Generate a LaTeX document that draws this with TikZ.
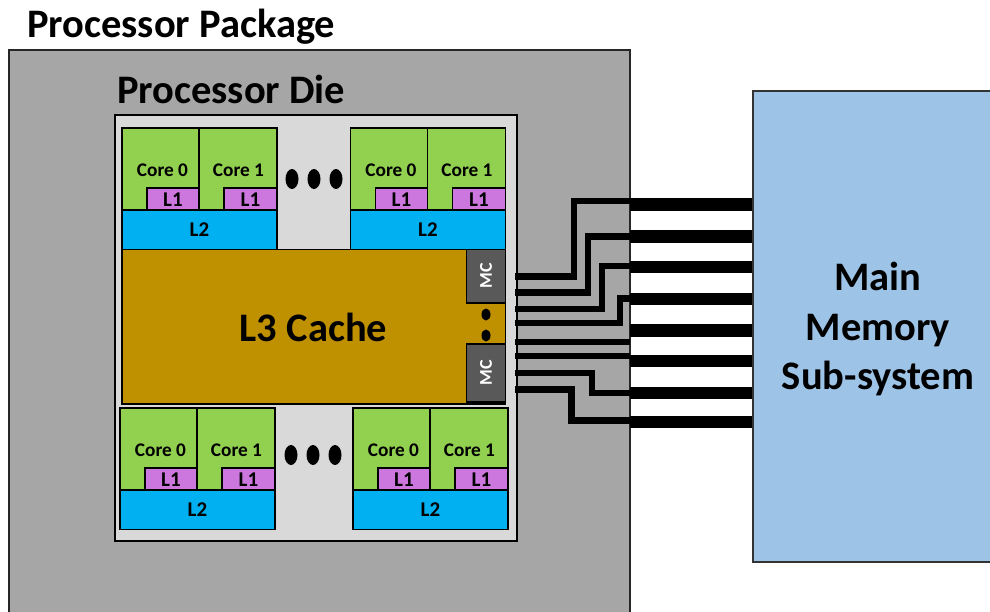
\documentclass[tikz,border=0pt]{standalone}
\usepackage{fontspec}
\setmainfont{Carlito}
\usetikzlibrary{calc}

\definecolor{pkggray}{HTML}{A6A6A6}
\definecolor{diegray}{HTML}{D9D9D9}
\definecolor{coregreen}{HTML}{92D050}
\definecolor{lonepink}{HTML}{CC77DD}
\definecolor{ltwoblue}{HTML}{00B0F0}
\definecolor{lthreegold}{HTML}{BF9000}
\definecolor{mcgray}{HTML}{595959}
\definecolor{memblue}{HTML}{9DC3E6}

% one pair of cores with their L1 and shared L2
\newcommand{\coregroup}[3]{%
  \begin{scope}[shift={(#1,#2)}]
    \draw[cell,fill=coregreen] (0,0) rectangle (77,82);
    \draw[cell,fill=coregreen] (77,0) rectangle (155,82);
    \draw[cell,fill=lonepink] (25,60) rectangle (77,82);
    \draw[cell,fill=lonepink] (102,60) rectangle (155,82);
    \draw[cell,fill=ltwoblue] (0,82) rectangle (155,121.5);
    \node[small] (#3c0) at (40.5,42) {Core 0};
    \node[small] (#3c1) at (116.5,42) {Core 1};
    \node[cache] (#3la) at (51,71.5) {L1};
    \node[cache] (#3lb) at (128.5,71.5) {L1};
    \node[cache] (#3l2) at (77.5,102) {L2};
  \end{scope}}

\begin{document}
\begin{tikzpicture}[x=1pt,y=-1pt,
    cell/.style={draw=black,line width=1.3pt},
    small/.style={font=\bfseries\fontsize{19.3}{21}\selectfont,inner sep=0pt},
    cache/.style={font=\bfseries\fontsize{21}{23}\selectfont,inner sep=0pt},
    big/.style={font=\bfseries\fontsize{40.5}{49.5}\selectfont,inner sep=0pt},
    wire/.style={line width=6.5pt},
    bar/.style={line width=12.5pt},
    dot/.style={fill=black}]
  \useasboundingbox (0,0) rectangle (990,611);
  \clip (0,0) rectangle (990,611);

  % package and die
  \fill[pkggray] (9,50) rectangle (630,620);
  \draw[line width=1.8pt,black!85] (9,620) -- (9,50) -- (630,50) -- (630,620);
  \node[big,anchor=base west] (pkgtitle) at (27,37.5) {Processor Package};
  \draw[line width=1.6pt,fill=diegray] (115,115) rectangle (517,541);
  \node[big,anchor=base west] (dietitle) at (117,103) {Processor Die};

  \coregroup{122}{128}{tl}
  \coregroup{350.5}{128}{tr}
  \coregroup{120}{408}{bl}
  \coregroup{353}{408}{br}

  \fill[dot] (292,179) ellipse [x radius=6.5pt,y radius=10pt];
  \fill[dot] (314,179) ellipse [x radius=6.5pt,y radius=10pt];
  \fill[dot] (336,179) ellipse [x radius=6.5pt,y radius=10pt];
  \fill[dot] (291,455) ellipse [x radius=6.5pt,y radius=10pt];
  \fill[dot] (313,455) ellipse [x radius=6.5pt,y radius=10pt];
  \fill[dot] (335,455) ellipse [x radius=6.5pt,y radius=10pt];

  % shared cache and memory controllers
  \draw[cell,fill=lthreegold] (122,249.5) rectangle (505.5,404);
  \node[big] (lthree) at (313.5,327) {L3 Cache};
  \draw[cell,fill=mcgray] (466.5,249.5) rectangle (505.5,303);
  \draw[cell,fill=mcgray] (466.5,344) rectangle (505.5,402);
  \node[small,white,rotate=90,font=\bfseries\fontsize{18}{20}\selectfont] (mca) at (486,276) {MC};
  \node[small,white,rotate=90,font=\bfseries\fontsize{18}{20}\selectfont] (mcb) at (486,373) {MC};
  \fill[dot] (486,314.5) ellipse [x radius=4.5pt,y radius=6pt];
  \fill[dot] (486,335.5) ellipse [x radius=4.5pt,y radius=6pt];

  % wires to the memory bus
  \foreach \ya/\xt/\yb in {276.3/574/201,292.7/588/236.5,309/602/266,323/620/298.5,
                           342/600/342,356/600/356,373/592/393,389.7/571.5/420.5}
    \draw[wire] (515,\ya) -| (\xt,\yb) -- (630,\yb);
  \foreach \y in {204.7,236.3,267.2,298.8,330.3,361.2,393,422}
    \draw[bar] (630,\y) -- (753,\y);

  % main memory
  \draw[line width=1.8pt,draw=black!80,fill=memblue] (753,91) rectangle (1000,562);
  \node[big,align=center] (mem) at (878,329) {Main\\Memory\\Sub-system};
\end{tikzpicture}
\end{document}
